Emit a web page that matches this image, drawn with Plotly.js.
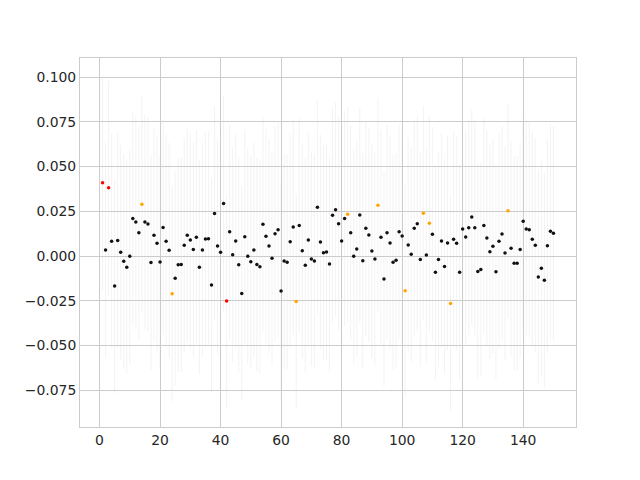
<!DOCTYPE html>
<html>
<head>
<meta charset="utf-8">
<script src="https://cdn.plot.ly/plotly-3.0.1.min.js"></script>
<style>
  html, body { margin: 0; padding: 0; background: #ffffff; }
  #chart { width: 640px; height: 480px; }
</style>
</head>
<body>
<div id="chart"></div>
<script>
// ---- data ----
const xIndex = Array.from({length: 150}, (_, i) => i + 1);

const values = [
  0.0410, 0.0034, 0.0382, 0.0082, -0.0168, 0.0086, 0.0021, -0.0030, -0.0063, -0.0002,
  0.0209, 0.0190, 0.0130, 0.0290, 0.0190, 0.0179, -0.0037, 0.0116, 0.0071, -0.0034,
  0.0160, 0.0082, 0.0032, -0.0211, -0.0125, -0.0049, -0.0047, 0.0060, 0.0116, 0.0089,
  0.0037, 0.0105, -0.0063, 0.0034, 0.0095, 0.0097, -0.0162, 0.0237, 0.0056, 0.0021,
  0.0293, -0.0252, 0.0136, 0.0007, 0.0084, -0.0049, -0.0209, 0.0108, -0.0002, -0.0032,
  0.0034, -0.0047, -0.0060, 0.0177, 0.0110, 0.0056, -0.0013, 0.0125, 0.0147, -0.0196,
  -0.0028, -0.0035, 0.0080, 0.0162, -0.0255, 0.0170, 0.0030, -0.0052, 0.0089, -0.0017,
  -0.0028, 0.0272, 0.0078, 0.0018, 0.0023, -0.0045, 0.0228, 0.0259, 0.0181, 0.0084,
  0.0209, 0.0233, 0.0130, -0.0002, 0.0039, 0.0229, -0.0026, 0.0155, 0.0117, 0.0028,
  -0.0017, 0.0284, 0.0105, -0.0129, 0.0130, 0.0073, -0.0035, -0.0024, 0.0136, 0.0112,
  -0.0194, 0.0062, 0.0010, 0.0155, 0.0181, -0.0020, 0.0239, 0.0006, 0.0183, 0.0121,
  -0.0091, -0.0020, 0.0084, -0.0058, 0.0073, -0.0265, 0.0093, 0.0071, -0.0091, 0.0151,
  0.0106, 0.0158, 0.0218, 0.0158, -0.0086, -0.0075, 0.0170, 0.0101, 0.0024, 0.0054,
  -0.0088, 0.0082, 0.0123, 0.0017, 0.0253, 0.0043, -0.0041, -0.0041, 0.0037, 0.0194,
  0.0151, 0.0147, 0.0093, 0.0060, -0.0117, -0.0069, -0.0136, 0.0058, 0.0138, 0.0127
];

// half-width of the (uniform) error bars
const errorHalfWidth = 0.060;

// points drawn in red / orange in the reference (others are black)
const redPoints = [1, 3, 42];
const orangePoints = [14, 24, 65, 82, 92, 101, 107, 109, 116, 135];

const xTicks = [0, 20, 40, 60, 80, 100, 120, 140];
const yTicks = [-0.075, -0.050, -0.025, 0.000, 0.025, 0.050, 0.075, 0.100];

// ---- styling ----
const colorFor = (x) => redPoints.includes(x) ? '#ff0000'
                     : orangePoints.includes(x) ? '#ffa500' : '#111111';
const markerColors = xIndex.map(colorFor);

const trace = {
  type: 'scatter',
  mode: 'markers',
  x: xIndex,
  y: values,
  marker: { size: 3.5, color: markerColors, line: { width: 0 } },
  error_y: {
    type: 'constant',
    value: errorHalfWidth,
    visible: true,
    color: 'rgba(200,200,200,0.22)',
    thickness: 1,
    width: 0
  },
  hoverinfo: 'x+y',
  showlegend: false
};

const axisFont = { family: 'DejaVu Sans, sans-serif', size: 13.9, color: '#262626' };

const layout = {
  width: 640,
  height: 480,
  paper_bgcolor: '#ffffff',
  plot_bgcolor: '#ffffff',
  margin: { l: 80, r: 64, t: 58, b: 53, pad: 0 },
  showlegend: false,
  xaxis: {
    range: [-6.45, 157.45],
    tickvals: xTicks,
    ticktext: xTicks.map(String),
    showgrid: true,
    gridcolor: '#cccccc',
    gridwidth: 1,
    zeroline: false,
    showline: true,
    mirror: true,
    linecolor: '#cccccc',
    linewidth: 1,
    ticks: '',
    tickfont: axisFont,
    automargin: false
  },
  yaxis: {
    range: [-0.0956, 0.1107],
    tickvals: yTicks,
    ticktext: yTicks.map(v => (v < 0 ? '\u2212' : '') + Math.abs(v).toFixed(3)),
    showgrid: true,
    gridcolor: '#cccccc',
    gridwidth: 1,
    zeroline: false,
    showline: true,
    mirror: true,
    linecolor: '#cccccc',
    linewidth: 1,
    ticks: '',
    tickfont: axisFont,
    automargin: false
  }
};

Plotly.newPlot('chart', [trace], layout, { displayModeBar: false, staticPlot: true });
</script>
</body>
</html>
